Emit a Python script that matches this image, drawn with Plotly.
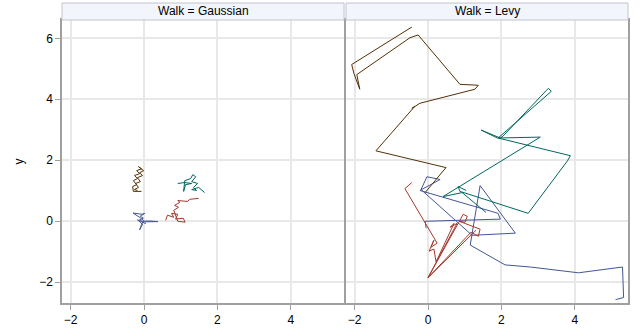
import plotly.graph_objects as go

# ---------------- data ----------------
panels = ["Gaussian", "Levy"]
colors = ["#445694", "#A23A2E", "#01665E", "#543005"]

gauss_blue_x = [0.0, -0.08, -0.30, -0.05, 0.02, -0.10, -0.02, -0.12, -0.05, 0.15, 0.38, 0.12, -0.03, -0.08, -0.12, -0.04, -0.18, 0.00, 0.05]
gauss_blue_y = [0.0, 0.10, 0.27, 0.23, 0.26, 0.17, 0.10, 0.05, 0.00, 0.01, -0.01, -0.03, -0.02, -0.15, -0.28, -0.10, 0.05, -0.05, -0.08]

gauss_red_x = [0.59, 0.64, 0.81, 0.75, 0.92, 0.86, 1.07, 1.12, 0.92, 0.81, 0.94, 0.83, 0.98, 0.92, 1.19, 1.24, 1.49]
gauss_red_y = [0.03, 0.20, 0.13, 0.26, 0.23, 0.07, 0.10, -0.03, 0.00, 0.36, 0.46, 0.52, 0.62, 0.68, 0.65, 0.72, 0.75]

gauss_teal_x = [0.92, 1.11, 1.30, 1.13, 1.08, 1.11, 1.27, 1.33, 1.41, 1.30, 1.46, 1.35, 1.43, 1.30, 1.49, 1.65]
gauss_teal_y = [1.24, 1.27, 1.24, 1.20, 0.98, 1.33, 1.40, 1.53, 1.46, 1.30, 1.24, 1.11, 1.01, 1.04, 1.11, 0.94]

gauss_brown_x = [-0.07, -0.29, -0.31, -0.20, -0.29, -0.18, -0.26, -0.12, -0.20, -0.07, -0.15, -0.01, -0.12, -0.04, -0.18, -0.10, -0.23, -0.15, -0.26, -0.18]
gauss_brown_y = [0.98, 0.98, 1.14, 1.20, 1.33, 1.40, 1.50, 1.56, 1.66, 1.72, 1.79, 1.66, 1.59, 1.50, 1.43, 1.30, 1.24, 1.11, 1.04, 1.01]

levy_blue_x = [-0.05, -0.08, 1.97, 1.91, -0.22, 0.33, -0.03, -0.19, 1.20, 2.38, 1.42, 1.15, 2.10, 2.79, 4.10, 5.30, 5.33, 5.11]
levy_blue_y = [-0.23, 0.00, 0.07, 0.26, 1.01, 1.37, 1.46, 1.04, -0.46, -0.39, 1.17, -0.78, -1.43, -1.50, -1.69, -1.50, -2.50, -2.57]

levy_red_x = [-0.44, -0.63, 0.25, 0.08, 0.16, 0.03, 0.16, 0.22, 0.71, 0.60, 0.79, 0.00, 0.96, 1.07, 1.01, 0.85, 1.42, 1.37, 1.17, 0.00, 1.31]
levy_red_y = [1.27, 1.07, -0.72, -0.85, -0.62, -0.98, -0.91, -1.33, -0.07, -0.20, -0.07, -1.85, 0.23, 0.16, -0.03, 0.00, -0.26, -0.49, -0.36, -1.85, -0.29]

levy_teal_x = [1.58, 0.93, 0.41, 3.06, 1.89, 1.45, 1.97, 2.05, 3.28, 3.36, 1.91, 3.88, 3.80, 2.73, 0.87, 0.82, 1.04]
levy_teal_y = [0.29, 0.94, 0.81, 2.76, 2.73, 2.99, 2.73, 2.80, 4.36, 4.26, 2.73, 2.15, 1.98, 0.26, 0.98, 1.14, 1.01]

levy_brown_x = [-0.08, 0.49, -1.42, -0.90, -0.41, -0.47, -0.36, -0.44, -0.22, 1.28, 1.37, 0.87, -0.27, -0.49, -1.94, -1.86, -2.02, -2.08, -0.44]
levy_brown_y = [0.94, 1.76, 2.31, 3.02, 3.67, 3.60, 3.77, 3.70, 3.87, 4.33, 4.46, 4.49, 6.11, 6.02, 4.81, 4.33, 4.85, 5.14, 6.37]

x_ticks = [-2, 0, 2, 4]
y_ticks = [-2, 0, 2, 4, 6]

# ---------------- figure ----------------
FONT = "Liberation Sans, Arial, sans-serif"
fig = go.Figure()

gauss = [(gauss_blue_x, gauss_blue_y), (gauss_red_x, gauss_red_y),
         (gauss_teal_x, gauss_teal_y), (gauss_brown_x, gauss_brown_y)]
levy = [(levy_blue_x, levy_blue_y), (levy_red_x, levy_red_y),
        (levy_teal_x, levy_teal_y), (levy_brown_x, levy_brown_y)]

for (xs, ys), c in zip(gauss, colors):
    fig.add_trace(go.Scatter(x=xs, y=ys, mode="lines", line=dict(color=c, width=1),
                             xaxis="x", yaxis="y", showlegend=False))
for (xs, ys), c in zip(levy, colors):
    fig.add_trace(go.Scatter(x=xs, y=ys, mode="lines", line=dict(color=c, width=1),
                             xaxis="x2", yaxis="y2", showlegend=False))

W, H = 640, 336
left_dom = [62 / W, 344 / W]
right_dom = [346 / W, 628 / W]
y_dom = [(H - 303) / H, (H - 20) / H]
strip_top = (H - 3) / H

axis_common = dict(showgrid=True, gridcolor="#E8E8E8", gridwidth=1.5, zeroline=False,
                   showline=True, linecolor="#A0A0A0", linewidth=1.5, mirror=True,
                   ticks="outside", ticklen=5, tickcolor="#A0A0A0",
                   tickfont=dict(family=FONT, size=12, color="#000000"))

xr = [-2.235, 5.45]
yr = [-2.68, 6.6]

fig.update_layout(
    width=W, height=H,
    margin=dict(l=0, r=0, t=0, b=0),
    paper_bgcolor="white", plot_bgcolor="white",
    xaxis=dict(domain=left_dom, range=xr, tickvals=x_ticks, anchor="y", **axis_common),
    xaxis2=dict(domain=right_dom, range=xr, tickvals=x_ticks, anchor="y2", **axis_common),
    yaxis=dict(domain=y_dom, range=yr, tickvals=y_ticks, anchor="x", **axis_common),
    yaxis2=dict(domain=y_dom, range=yr, tickvals=y_ticks, anchor="x2", matches="y",
                showticklabels=False, **{k: v for k, v in axis_common.items() if k not in ("ticks",)}),
)
fig.update_layout(yaxis2=dict(ticks=""))

shapes = []
annotations = []
for name, dom in zip(panels, [left_dom, right_dom]):
    shapes.append(dict(type="rect", xref="paper", yref="paper",
                       x0=dom[0], x1=dom[1], y0=y_dom[1], y1=strip_top,
                       fillcolor="#F2F5FB", line=dict(color="#C0C4CC", width=1)))
    annotations.append(dict(xref="paper", yref="paper", x=(dom[0] + dom[1]) / 2,
                            y=(y_dom[1] + strip_top) / 2, text=f"Walk = {name}",
                            showarrow=False, xanchor="center", yanchor="middle",
                            font=dict(family=FONT, size=12, color="#000000")))
annotations.append(dict(xref="paper", yref="paper", x=18 / W, y=(y_dom[0] + y_dom[1]) / 2,
                        text="y", textangle=-90, showarrow=False,
                        xanchor="center", yanchor="middle",
                        font=dict(family=FONT, size=12, color="#000000")))
fig.update_layout(shapes=shapes, annotations=annotations)

fig.write_html("out.html")
